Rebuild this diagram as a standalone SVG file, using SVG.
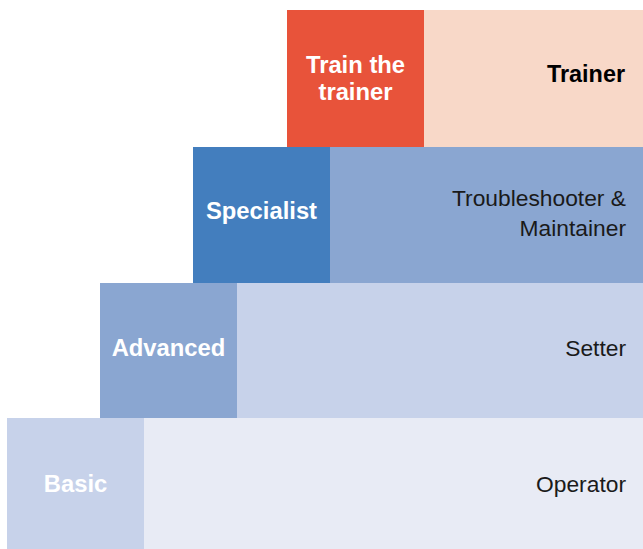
<svg xmlns="http://www.w3.org/2000/svg" width="643" height="549" viewBox="0 0 643 549">
<style>
.lbl{font-family:"Liberation Sans",Arial,sans-serif;font-weight:bold;font-size:23.8px;fill:#ffffff;text-anchor:middle}
.role{font-family:"Liberation Sans",Arial,sans-serif;font-size:22.8px;fill:#1a1a1a;text-anchor:end}
</style>
<rect width="643" height="549" fill="#ffffff"/>
<g id="trainer">
<rect x="424" y="10" width="219" height="137" fill="#F8D8C8"/>
<rect x="287" y="10" width="137" height="137" fill="#E8533A"/>
<text class="lbl" x="355.5" y="73">Train the</text>
<text class="lbl" x="355.5" y="100">trainer</text>
<text class="role" x="625" y="82" style="font-weight:bold;font-size:23.4px;fill:#000">Trainer</text>
</g>
<g id="specialist">
<rect x="330" y="147" width="313" height="136" fill="#8AA6D1"/>
<rect x="193" y="147" width="137" height="136" fill="#437EBE"/>
<text class="lbl" x="261.5" y="219">Specialist</text>
<text class="role" x="626" y="206">Troubleshooter &amp;</text>
<text class="role" x="626" y="236">Maintainer</text>
</g>
<g id="advanced">
<rect x="237" y="283" width="406" height="135" fill="#C7D2EA"/>
<rect x="100" y="283" width="137" height="135" fill="#8AA6D1"/>
<text class="lbl" x="168.5" y="356">Advanced</text>
<text class="role" x="626" y="356">Setter</text>
</g>
<g id="basic">
<rect x="144" y="418" width="499" height="131" fill="#E8EBF5"/>
<rect x="7" y="418" width="137" height="131" fill="#C7D2EA"/>
<text class="lbl" x="75.5" y="492">Basic</text>
<text class="role" x="626" y="492">Operator</text>
</g>
<g id="connectors"/>
</svg>
